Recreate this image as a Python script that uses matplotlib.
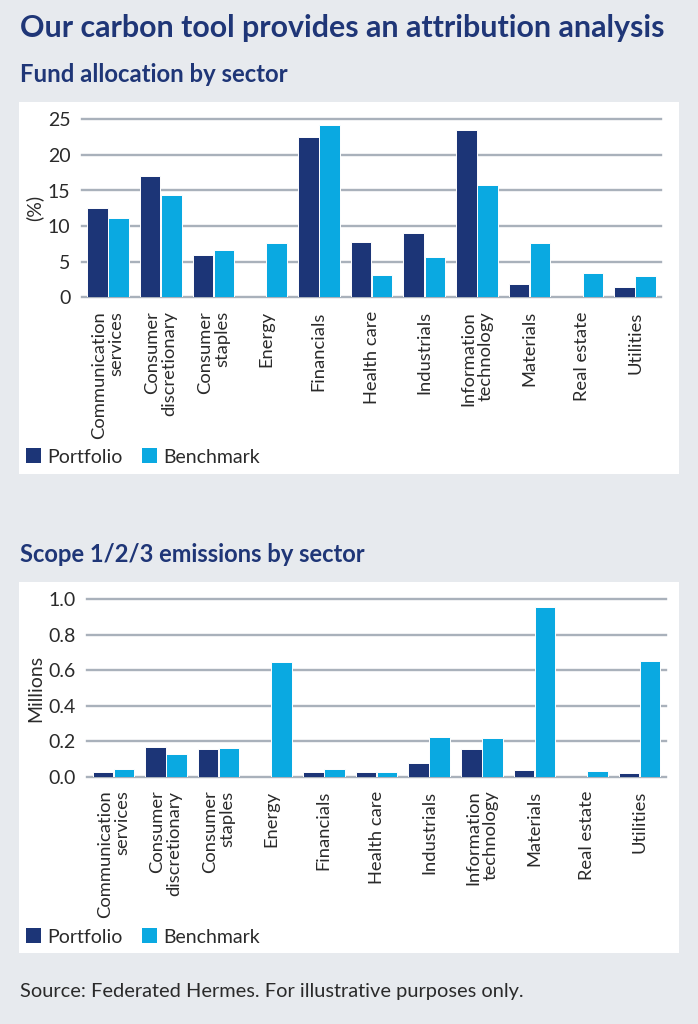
import matplotlib
matplotlib.use("Agg")
import matplotlib.pyplot as plt
from matplotlib.patches import Rectangle, Patch
import numpy as np

plt.rcParams['font.family'] = ['Lato', 'DejaVu Sans']

sectors = ["Communication\nservices", "Consumer\ndiscretionary", "Consumer\nstaples",
           "Energy", "Financials", "Health care", "Industrials",
           "Information\ntechnology", "Materials", "Real estate", "Utilities"]

alloc_portfolio = [12.6, 17.1, 5.9, 0.0, 22.5, 7.8, 9.0, 23.5, 1.9, 0.0, 1.45]
alloc_benchmark = [11.1, 14.3, 6.6, 7.6, 24.2, 3.1, 5.65, 15.8, 7.6, 3.35, 3.05]

emis_portfolio = [0.024, 0.167, 0.156, 0.0, 0.024, 0.024, 0.077, 0.156, 0.038, 0.0, 0.020]
emis_benchmark = [0.041, 0.126, 0.163, 0.644, 0.043, 0.026, 0.223, 0.220, 0.955, 0.030, 0.651]

alloc_ticks = [0, 5, 10, 15, 20, 25]
emis_ticks = [0.0, 0.2, 0.4, 0.6, 0.8, 1.0]

NAVY = "#1c3577"
CYAN = "#0aa9e1"
TITLE = "#1f3677"
BG = "#e7eaee"
GRID = "#a9b1bb"
TXT = "#2a2a2a"

W, H = 698, 1024
fig = plt.figure(figsize=(W / 100, H / 100), dpi=100, facecolor=BG)

def fx(px):
    return px / W

def fy(py):
    return 1 - py / H

# white panels
for top, bot in [(102, 474), (582, 953)]:
    fig.patches.append(Rectangle((fx(19), fy(bot)), fx(679) - fx(19), fy(top) - fy(bot),
                                 transform=fig.transFigure, facecolor="white",
                                 edgecolor="none", zorder=-5))

fig.text(fx(20), fy(28), "Our carbon tool provides an attribution analysis",
         fontsize=21.9, fontweight="bold", color=TITLE, va="center", ha="left")
fig.text(fx(20), fy(75), "Fund allocation by sector",
         fontsize=17.2, fontweight="bold", color=TITLE, va="center", ha="left")
fig.text(fx(20), fy(555), "Scope 1/2/3 emissions by sector",
         fontsize=17.1, fontweight="bold", color=TITLE, va="center", ha="left")
fig.text(fx(20), fy(991), "Source: Federated Hermes. For illustrative purposes only.",
         fontsize=14.4, color=TXT, va="center", ha="left")


def draw(ax, p, b, ticks, fmt, ylabel, ylab_x):
    x = np.arange(len(sectors))
    ax.set_facecolor("white")
    ax.bar(x - 0.2, p, width=0.39, color=NAVY, edgecolor="white", linewidth=0.7, zorder=3)
    ax.bar(x + 0.2, b, width=0.39, color=CYAN, edgecolor="white", linewidth=0.7, zorder=3)
    ax.set_xlim(-0.5, len(sectors) - 0.5)
    ax.set_ylim(ticks[0], ticks[-1])
    ax.set_yticks(ticks, labels=[fmt.format(t) for t in ticks])
    ax.yaxis.grid(True, color=GRID, linewidth=1.7, zorder=0)
    ax.set_axisbelow(True)
    for s in ax.spines.values():
        s.set_visible(False)
    ax.tick_params(axis="y", length=0, pad=8, labelsize=14, labelcolor=TXT)
    ax.tick_params(axis="x", length=0, pad=10, labelsize=13.2, labelcolor=TXT)
    ax.set_xticks(x, labels=sectors, rotation=90, ha="center", va="top")
    for lab in ax.get_xticklabels():
        lab.set_multialignment("right")
        lab.set_linespacing(1.1)
    ax.set_ylabel(ylabel, fontsize=14, color=TXT)
    ax.yaxis.set_label_coords(ylab_x, 0.5)
    for line in ax.get_ygridlines():
        line.set_clip_on(False)


ax1 = fig.add_axes([fx(81.7), fy(297.3), fx(661.4) - fx(81.7), fy(119.3) - fy(297.3)])
draw(ax1, alloc_portfolio, alloc_benchmark, alloc_ticks, "{:d}", "(%)", -0.067)

ax2 = fig.add_axes([fx(87), fy(776.7), fx(666) - fx(87), fy(599.3) - fy(776.7)])
draw(ax2, emis_portfolio, emis_benchmark, emis_ticks, "{:.1f}", "Millions", -0.073)

handles = [Patch(facecolor=NAVY, label="Portfolio"), Patch(facecolor=CYAN, label="Benchmark")]
for yc in (457, 937):
    fig.legend(handles=handles, loc="center left", bbox_to_anchor=(fx(26), fy(yc)),
               frameon=False, fontsize=14, handlelength=0.78, handleheight=0.78,
               handletextpad=0.3, columnspacing=1.0, ncol=2, borderaxespad=0,
               borderpad=0, labelcolor=TXT)

fig.savefig("out.png", dpi=100, facecolor=BG)
